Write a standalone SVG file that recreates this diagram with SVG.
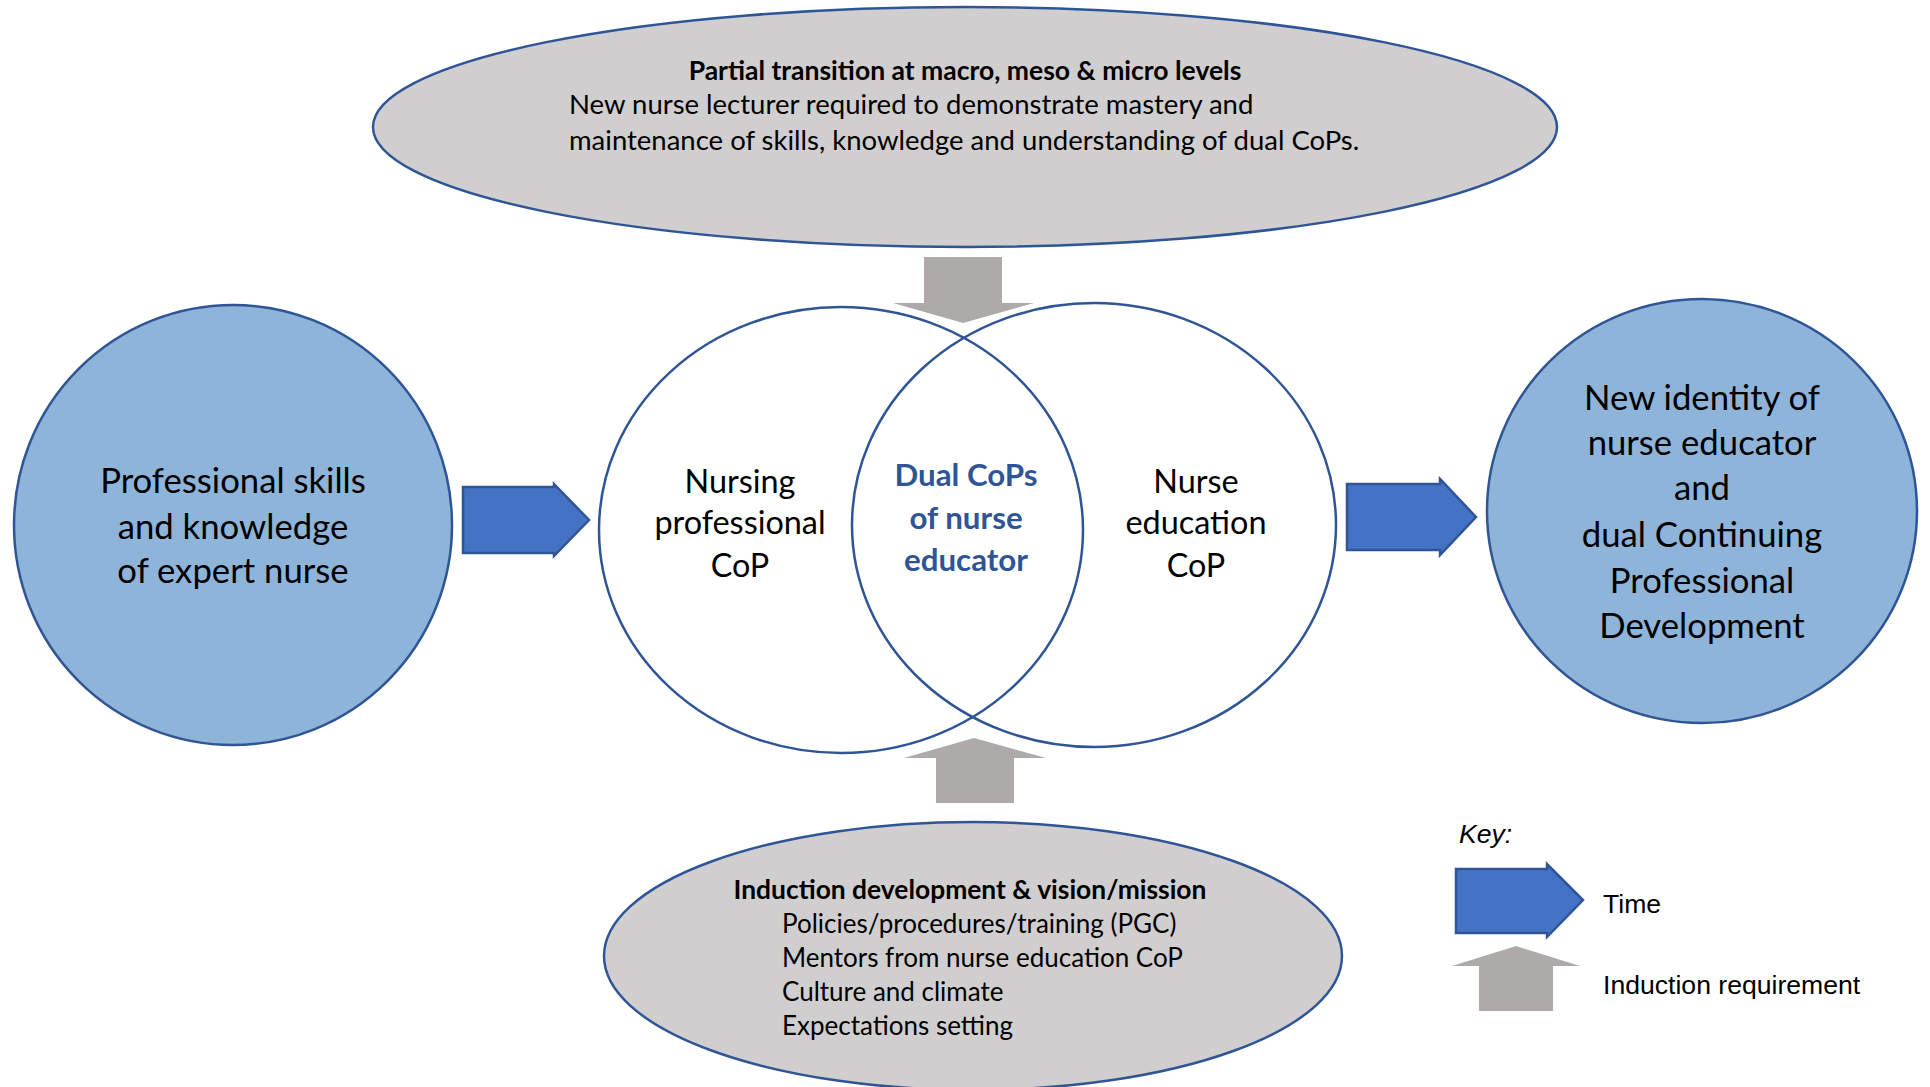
<svg xmlns="http://www.w3.org/2000/svg" width="1930" height="1087" viewBox="0 0 1930 1087">
  <style>
    .lbl { font-family: Lato, "Open Sans", "Liberation Sans", sans-serif; fill: #000; }
    .big { font-size: 34.7px; text-anchor: middle; }
    .mid { font-size: 32.4px; text-anchor: middle; }
    .top { font-size: 27.5px; }
    .topb { font-size: 26.5px; font-weight: bold; }
    .small { font-size: 26px; }
    .smallb { font-size: 26.4px; font-weight: bold; }
    .dual { fill: #2F5597; font-weight: bold; font-size: 31.3px; }
    .key { font-family: "Liberation Sans", Arial, sans-serif; font-size: 26.6px; fill: #000; }
    .ring { stroke: #2F5597; stroke-width: 2.5; }
    .grey { fill: #D0CECE; }
    .blue { fill: #8EB4D9; }
    .venn { fill: none; }
    .time { fill: #4472C4; stroke: #2F5597; stroke-width: 2.5; stroke-linejoin: miter; }
    .induct { fill: #AEAAAA; stroke: none; }
  </style>

  <rect width="1930" height="1087" fill="#FFFFFF"/>

  <!-- Macro, meso and micro transition -->
  <g id="transition">
    <ellipse class="grey ring" cx="965" cy="127" rx="592" ry="120"/>
    <text class="lbl topb" x="965" y="80" text-anchor="middle">Partial transition at macro, meso &amp; micro levels</text>
    <text class="lbl top" x="569" y="114">New nurse lecturer required to demonstrate mastery and</text>
    <text class="lbl top" x="569" y="150">maintenance of skills, knowledge and understanding of dual CoPs.</text>
  </g>

  <!-- Starting point -->
  <g id="expert-nurse">
    <ellipse class="blue ring" cx="233" cy="525" rx="219" ry="220"/>
    <text class="lbl big" x="233" y="493">Professional skills</text>
    <text class="lbl big" x="233" y="539">and knowledge</text>
    <text class="lbl big" x="233" y="583">of expert nurse</text>
  </g>

  <!-- Two overlapping communities of practice -->
  <g id="nursing-cop">
    <ellipse class="venn ring" cx="841" cy="530" rx="242" ry="223"/>
    <text class="lbl mid" x="740" y="493">Nursing</text>
    <text class="lbl mid" x="740" y="534">professional</text>
    <text class="lbl mid" x="740" y="577">CoP</text>
  </g>

  <g id="education-cop">
    <ellipse class="venn ring" cx="1094" cy="525" rx="242" ry="222"/>
    <text class="lbl mid" x="1196" y="493">Nurse</text>
    <text class="lbl mid" x="1196" y="534">education</text>
    <text class="lbl mid" x="1196" y="577">CoP</text>
  </g>

  <g id="dual-cops">
    <text class="lbl mid dual" x="966" y="486">Dual CoPs</text>
    <text class="lbl mid dual" x="966" y="529">of nurse</text>
    <text class="lbl mid dual" x="966" y="571">educator</text>
  </g>

  <!-- Outcome -->
  <g id="new-identity">
    <ellipse class="blue ring" cx="1702" cy="511" rx="215" ry="212"/>
    <text class="lbl big" x="1702" y="410">New identity of</text>
    <text class="lbl big" x="1702" y="455">nurse educator</text>
    <text class="lbl big" x="1702" y="500">and</text>
    <text class="lbl big" x="1702" y="547">dual Continuing</text>
    <text class="lbl big" x="1702" y="593">Professional</text>
    <text class="lbl big" x="1702" y="638">Development</text>
  </g>

  <!-- Induction -->
  <g id="induction">
    <ellipse class="grey ring" cx="973" cy="956" rx="369" ry="134"/>
    <text class="lbl smallb" x="970" y="899" text-anchor="middle">Induction development &amp; vision/mission</text>
    <text class="lbl small" x="782" y="933">Policies/procedures/training (PGC)</text>
    <text class="lbl small" x="782" y="967">Mentors from nurse education CoP</text>
    <text class="lbl small" x="782" y="1001">Culture and climate</text>
    <text class="lbl small" x="782" y="1035">Expectations setting</text>
  </g>

  <!-- Connectors: time arrows and induction requirement arrows -->
  <g id="connectors">
    <polygon class="time" points="463,487 554,487 554,484 589,520 554,556 554,553 463,553"/>
    <polygon class="time" points="1347,484 1440,484 1440,479 1476,517 1440,555 1440,550 1347,550"/>
    <polygon class="induct" points="924,257 1002,257 1002,303 1034,303 963,323 893,303 924,303"/>
    <polygon class="induct" points="974,738 1046,758 1014,758 1014,803 936,803 936,758 904,758"/>
  </g>

  <!-- Key -->
  <g id="key">
    <text class="key" x="1459" y="843" font-style="italic">Key:</text>
    <polygon class="time" points="1456,869 1547,869 1547,864 1583,900 1547,937 1547,933 1456,933"/>
    <text class="key" x="1603" y="913">Time</text>
    <polygon class="induct" points="1516,946 1580,966 1553,966 1553,1011 1479,1011 1479,966 1452,966"/>
    <text class="key" x="1603" y="994">Induction requirement</text>
  </g>
</svg>
